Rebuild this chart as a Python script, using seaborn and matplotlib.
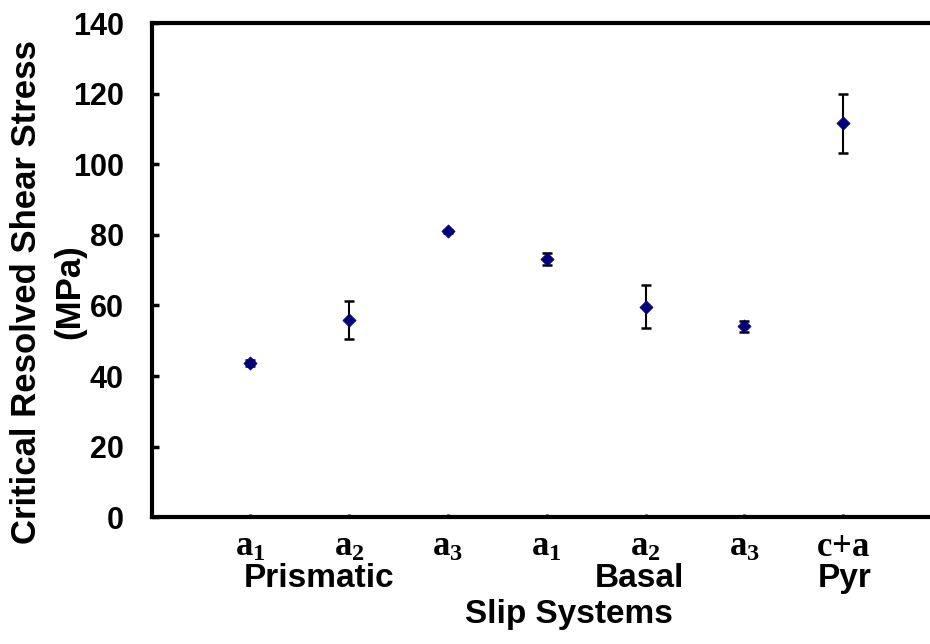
import numpy as np
import pandas as pd
import matplotlib
matplotlib.use("Agg")
import matplotlib.pyplot as plt
import matplotlib.transforms as mtransforms
import seaborn as sns

# values
tick_labels = [r"$\mathrm{a}_{1}$", r"$\mathrm{a}_{2}$", r"$\mathrm{a}_{3}$",
               r"$\mathrm{a}_{1}$", r"$\mathrm{a}_{2}$", r"$\mathrm{a}_{3}$",
               r"$\mathrm{c{+}a}$"]
slip_pos = [1, 2, 3, 4, 5, 6, 7]
crss = [43.7, 55.9, 81.0, 73.2, 59.6, 54.1, 111.6]
crss_err = [0.9, 5.3, 0.4, 1.7, 6.1, 1.6, 8.4]
groups = ["Prismatic", "Basal", "Pyr"]

sns.set_style("ticks")
plt.rcParams["font.family"] = ["Liberation Sans", "DejaVu Sans"]
plt.rcParams["font.weight"] = "bold"
plt.rcParams["text.color"] = "black"
plt.rcParams["xtick.color"] = "black"
plt.rcParams["ytick.color"] = "black"
plt.rcParams["mathtext.fontset"] = "custom"
plt.rcParams["mathtext.rm"] = "Liberation Serif:bold"
plt.rcParams["mathtext.it"] = "Liberation Serif:bold"
plt.rcParams["mathtext.bf"] = "Liberation Serif:bold"

df = pd.DataFrame({"pos": slip_pos, "crss": crss, "err": crss_err})

fig = plt.figure(figsize=(9.3, 6.44), dpi=100)
ax = fig.add_axes([0.163, 0.197, 0.837, 0.767])

# error bars first, then the diamonds on top
ax.errorbar(df["pos"], df["crss"], yerr=df["err"], fmt="none",
            ecolor="black", elinewidth=1.5, capsize=3.5, capthick=1.8, zorder=2)
sns.scatterplot(data=df, x="pos", y="crss", marker="D", s=45,
                color="#00007f", edgecolor="#00007f", linewidth=0.5,
                ax=ax, zorder=3, legend=False)

ax.set_xlim(0, 7.88)
ax.set_ylim(0, 140)
ax.set_yticks(np.arange(0, 141, 20))
ax.set_xticks(slip_pos)
ax.set_xticklabels(tick_labels, fontsize=25)
ax.tick_params(axis="y", direction="in", length=5, width=2.5,
               labelsize=22, pad=20, labelcolor="black")
ax.tick_params(axis="x", direction="in", length=2.5, width=2,
               pad=9, labelcolor="black")
for lbl in ax.get_yticklabels():
    lbl.set_fontweight("bold")

for side in ["left", "bottom", "top"]:
    ax.spines[side].set_linewidth(3)
    ax.spines[side].set_color("black")
ax.spines["right"].set_visible(False)

ax.set_xlabel("")
ax.set_ylabel("")

# group names under the tick labels
trans = mtransforms.blended_transform_factory(ax.transData, ax.transAxes)
for name, xpos in zip(groups, [1.70, 4.94, 7.02]):
    ax.text(xpos, -0.125, name, transform=trans, ha="center", va="center",
            fontsize=24, fontweight="bold", color="black")
ax.text(4.22, -0.198, "Slip Systems", transform=trans, ha="center",
        va="center", fontsize=24, fontweight="bold", color="black")

# two-line y label
fig.text(27 / 930, 1 - 292 / 644, "Critical Resolved Shear Stress",
         rotation=90, ha="center", va="center", fontsize=25,
         fontweight="bold", color="black")
fig.text(70 / 930, 1 - 292 / 644, "(MPa)", rotation=90, ha="center",
         va="center", fontsize=25, fontweight="bold", color="black")

fig.savefig("out.png", dpi=100)
